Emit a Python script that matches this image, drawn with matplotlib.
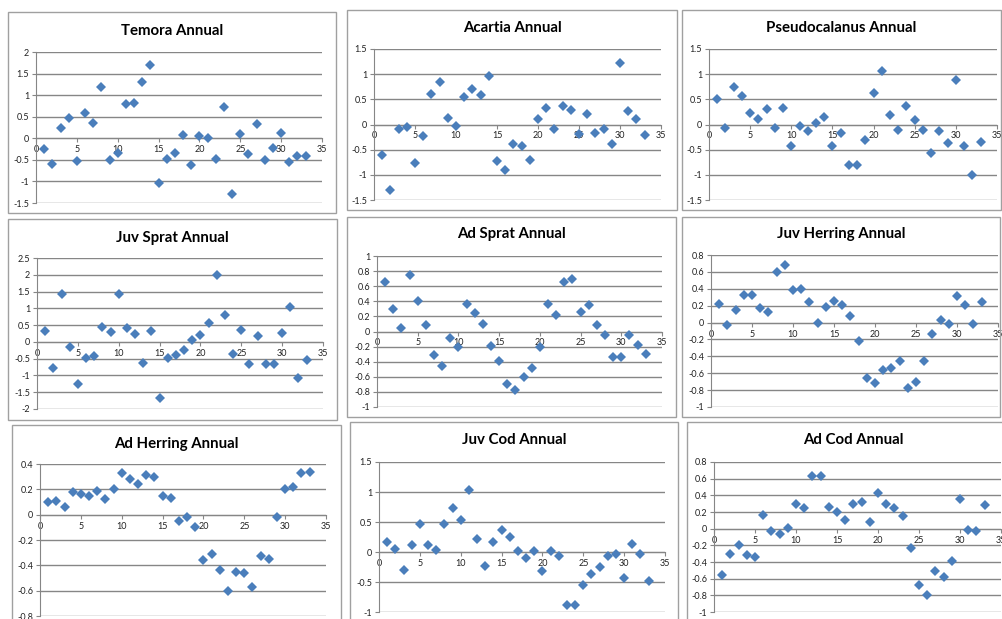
import matplotlib
matplotlib.use("Agg")
import matplotlib.pyplot as plt
from matplotlib.patches import Rectangle
from matplotlib.ticker import MultipleLocator, FuncFormatter
import numpy as np

plt.rcParams['axes.unicode_minus'] = False
plt.rcParams['font.family'] = ['Lato', 'DejaVu Sans']

W, H = 1002, 619

years = list(range(1, 34))

temora = [-0.24, -0.6, 0.25, 0.48, -0.53, 0.58, 0.36, 1.2, -0.5, -0.33, 0.79,
          0.81, 1.3, 1.7, -1.04, -0.48, -0.34, 0.07, -0.61, 0.06, 0.01, -0.48,
          0.72, -1.28, 0.09, -0.36, 0.34, -0.51, -0.22, 0.12, -0.55, -0.4, -0.4]
acartia = [-0.61, -1.31, -0.08, -0.05, -0.77, -0.22, 0.61, 0.85, 0.13, -0.03,
           0.54, 0.7, 0.58, 0.97, -0.73, -0.9, -0.38, -0.42, -0.71, 0.11, 0.33,
           -0.09, 0.37, 0.29, -0.19, 0.21, -0.17, -0.09, -0.38, 1.22, 0.27,
           0.1, -0.2]
pseudocalanus = [0.5, -0.07, 0.75, 0.56, 0.23, 0.1, 0.31, -0.06, 0.33, -0.42,
                 -0.02, -0.13, 0.02, 0.14, -0.42, -0.16, -0.8, -0.8, -0.31,
                 0.63, 1.06, 0.19, -0.1, 0.37, 0.09, -0.11, -0.57, -0.12,
                 -0.36, 0.89, -0.43, -1.01, -0.34]
juv_sprat = [0.31, -0.79, 1.42, -0.14, -1.25, -0.47, -0.43, 0.44, 0.28, 1.44,
             0.4, 0.24, -0.64, 0.32, -1.67, -0.47, -0.39, -0.24, 0.07, 0.2,
             0.57, 2.0, 0.81, -0.35, 0.34, -0.65, 0.17, -0.65, -0.66, 0.27,
             1.03, -1.09, -0.53]
ad_sprat = [0.66, 0.3, 0.04, 0.75, 0.4, 0.09, -0.31, -0.46, -0.08, -0.21, 0.37,
            0.24, 0.1, -0.19, -0.39, -0.69, -0.78, -0.6, -0.48, -0.21, 0.37,
            0.22, 0.65, 0.69, 0.26, 0.35, 0.08, -0.04, -0.34, -0.34, -0.05,
            -0.18, -0.3]
juv_herring = [0.22, -0.03, 0.15, 0.33, 0.33, 0.17, 0.13, 0.6, 0.68, 0.39, 0.4,
               0.24, -0.01, 0.18, 0.26, 0.21, 0.08, -0.22, -0.66, -0.71, -0.56,
               -0.54, -0.46, -0.77, -0.7, -0.46, -0.13, 0.03, -0.02, 0.32,
               0.21, -0.02, 0.24]
ad_herring = [0.1, 0.11, 0.06, 0.18, 0.16, 0.15, 0.19, 0.12, 0.2, 0.33, 0.28,
              0.24, 0.31, 0.3, 0.15, 0.13, -0.05, -0.02, -0.1, -0.36, -0.31,
              -0.44, -0.6, -0.45, -0.46, -0.57, -0.33, -0.35, -0.02, 0.2,
              0.22, 0.33, 0.34]
juv_cod = [0.17, 0.05, -0.3, 0.11, 0.47, 0.12, 0.03, 0.47, 0.74, 0.54, 1.04,
           0.21, -0.23, 0.17, 0.36, 0.25, 0.02, -0.1, 0.01, -0.31, 0.02, -0.06,
           -0.88, -0.89, -0.55, -0.36, -0.25, -0.07, -0.03, -0.43, 0.13,
           -0.03, -0.48]
ad_cod = [-0.56, -0.3, -0.2, -0.31, -0.34, 0.17, -0.03, -0.06, 0.01, 0.29,
          0.25, 0.63, 0.63, 0.26, 0.2, 0.1, 0.3, 0.32, 0.08, 0.43, 0.3, 0.25,
          0.15, -0.23, -0.67, -0.79, -0.51, -0.58, -0.39, 0.35, -0.01, -0.03,
          0.28]

titles = ["Temora Annual", "Acartia Annual", "Pseudocalanus Annual",
          "Juv Sprat Annual", "Ad Sprat Annual", "Juv Herring Annual",
          "Ad Herring Annual", "Juv Cod Annual", "Ad Cod Annual"]
series = [temora, acartia, pseudocalanus, juv_sprat, ad_sprat, juv_herring,
          ad_herring, juv_cod, ad_cod]
ylims = [(-1.5, 2), (-1.5, 1.5), (-1.5, 1.5), (-2, 2.5), (-1, 1), (-1, 0.8),
         (-0.8, 0.4), (-1, 1.5), (-1, 0.8)]
ysteps = [0.5, 0.5, 0.5, 0.5, 0.2, 0.2, 0.2, 0.5, 0.2]

# layout in pixels (x0, y0, x1, y1) from top-left
boxes = [(8, 12, 336, 213), (347, 10, 677, 210), (682, 10, 1001, 210),
         (8, 219, 337, 420), (347, 217, 676, 417), (682, 217, 1000, 417),
         (12, 425, 341, 660), (350, 422, 678, 660), (687, 422, 1020, 660)]
plots = [(36, 52, 322, 203), (374, 49, 661, 200), (709, 49, 997, 200),
         (37, 258, 323, 409), (377, 256, 662, 407), (711, 255, 998, 407),
         (40, 464, 326, 616), (379, 462, 665, 612), (714, 462, 1001, 612)]
title_y = [31, 28, 28, 238, 234, 234, 444, 440, 440]

grid_col = "#868686"
marker_col = "#4a7ebb"

fmt = FuncFormatter(lambda v, pos: '%g' % round(v, 6) if abs(v) > 1e-9 else '0')

fig = plt.figure(figsize=(W / 100, H / 100), dpi=100)

for i in range(9):
    bx0, by0, bx1, by1 = boxes[i]
    fig.add_artist(Rectangle((bx0 / W, 1 - by1 / H), (bx1 - bx0) / W,
                             (by1 - by0) / H, transform=fig.transFigure,
                             fill=False, edgecolor="#a0a0a0", lw=1.0))
    fig.text((bx0 + bx1) / 2 / W, 1 - title_y[i] / H, titles[i],
             ha='center', va='center', fontsize=10.8, fontweight='bold')

    px0, py0, px1, py1 = plots[i]
    ax = fig.add_axes([px0 / W, 1 - py1 / H, (px1 - px0) / W, (py1 - py0) / H])
    ax.set_xlim(0, 35)
    ax.set_ylim(*ylims[i])
    ax.xaxis.set_major_locator(MultipleLocator(5))
    ax.yaxis.set_major_locator(MultipleLocator(ysteps[i]))
    ax.yaxis.set_major_formatter(fmt)
    ax.xaxis.set_major_formatter(fmt)
    ax.grid(axis='y', color=grid_col, lw=1.0)
    ax.set_axisbelow(True)
    for s in ['top', 'right']:
        ax.spines[s].set_visible(False)
    ax.spines['bottom'].set_position(('data', 0))
    ax.spines['bottom'].set_color(grid_col)
    ax.spines['left'].set_color(grid_col)
    ax.tick_params(axis='both', labelsize=6.5, color=grid_col, length=3,
                   pad=2, labelcolor="#222222")
    ax.patch.set_alpha(0)
    ax.plot(years, series[i], 'D', color=marker_col, markersize=4.8,
            markeredgewidth=0, zorder=5, clip_on=False)

fig.savefig("out.png", dpi=100)
